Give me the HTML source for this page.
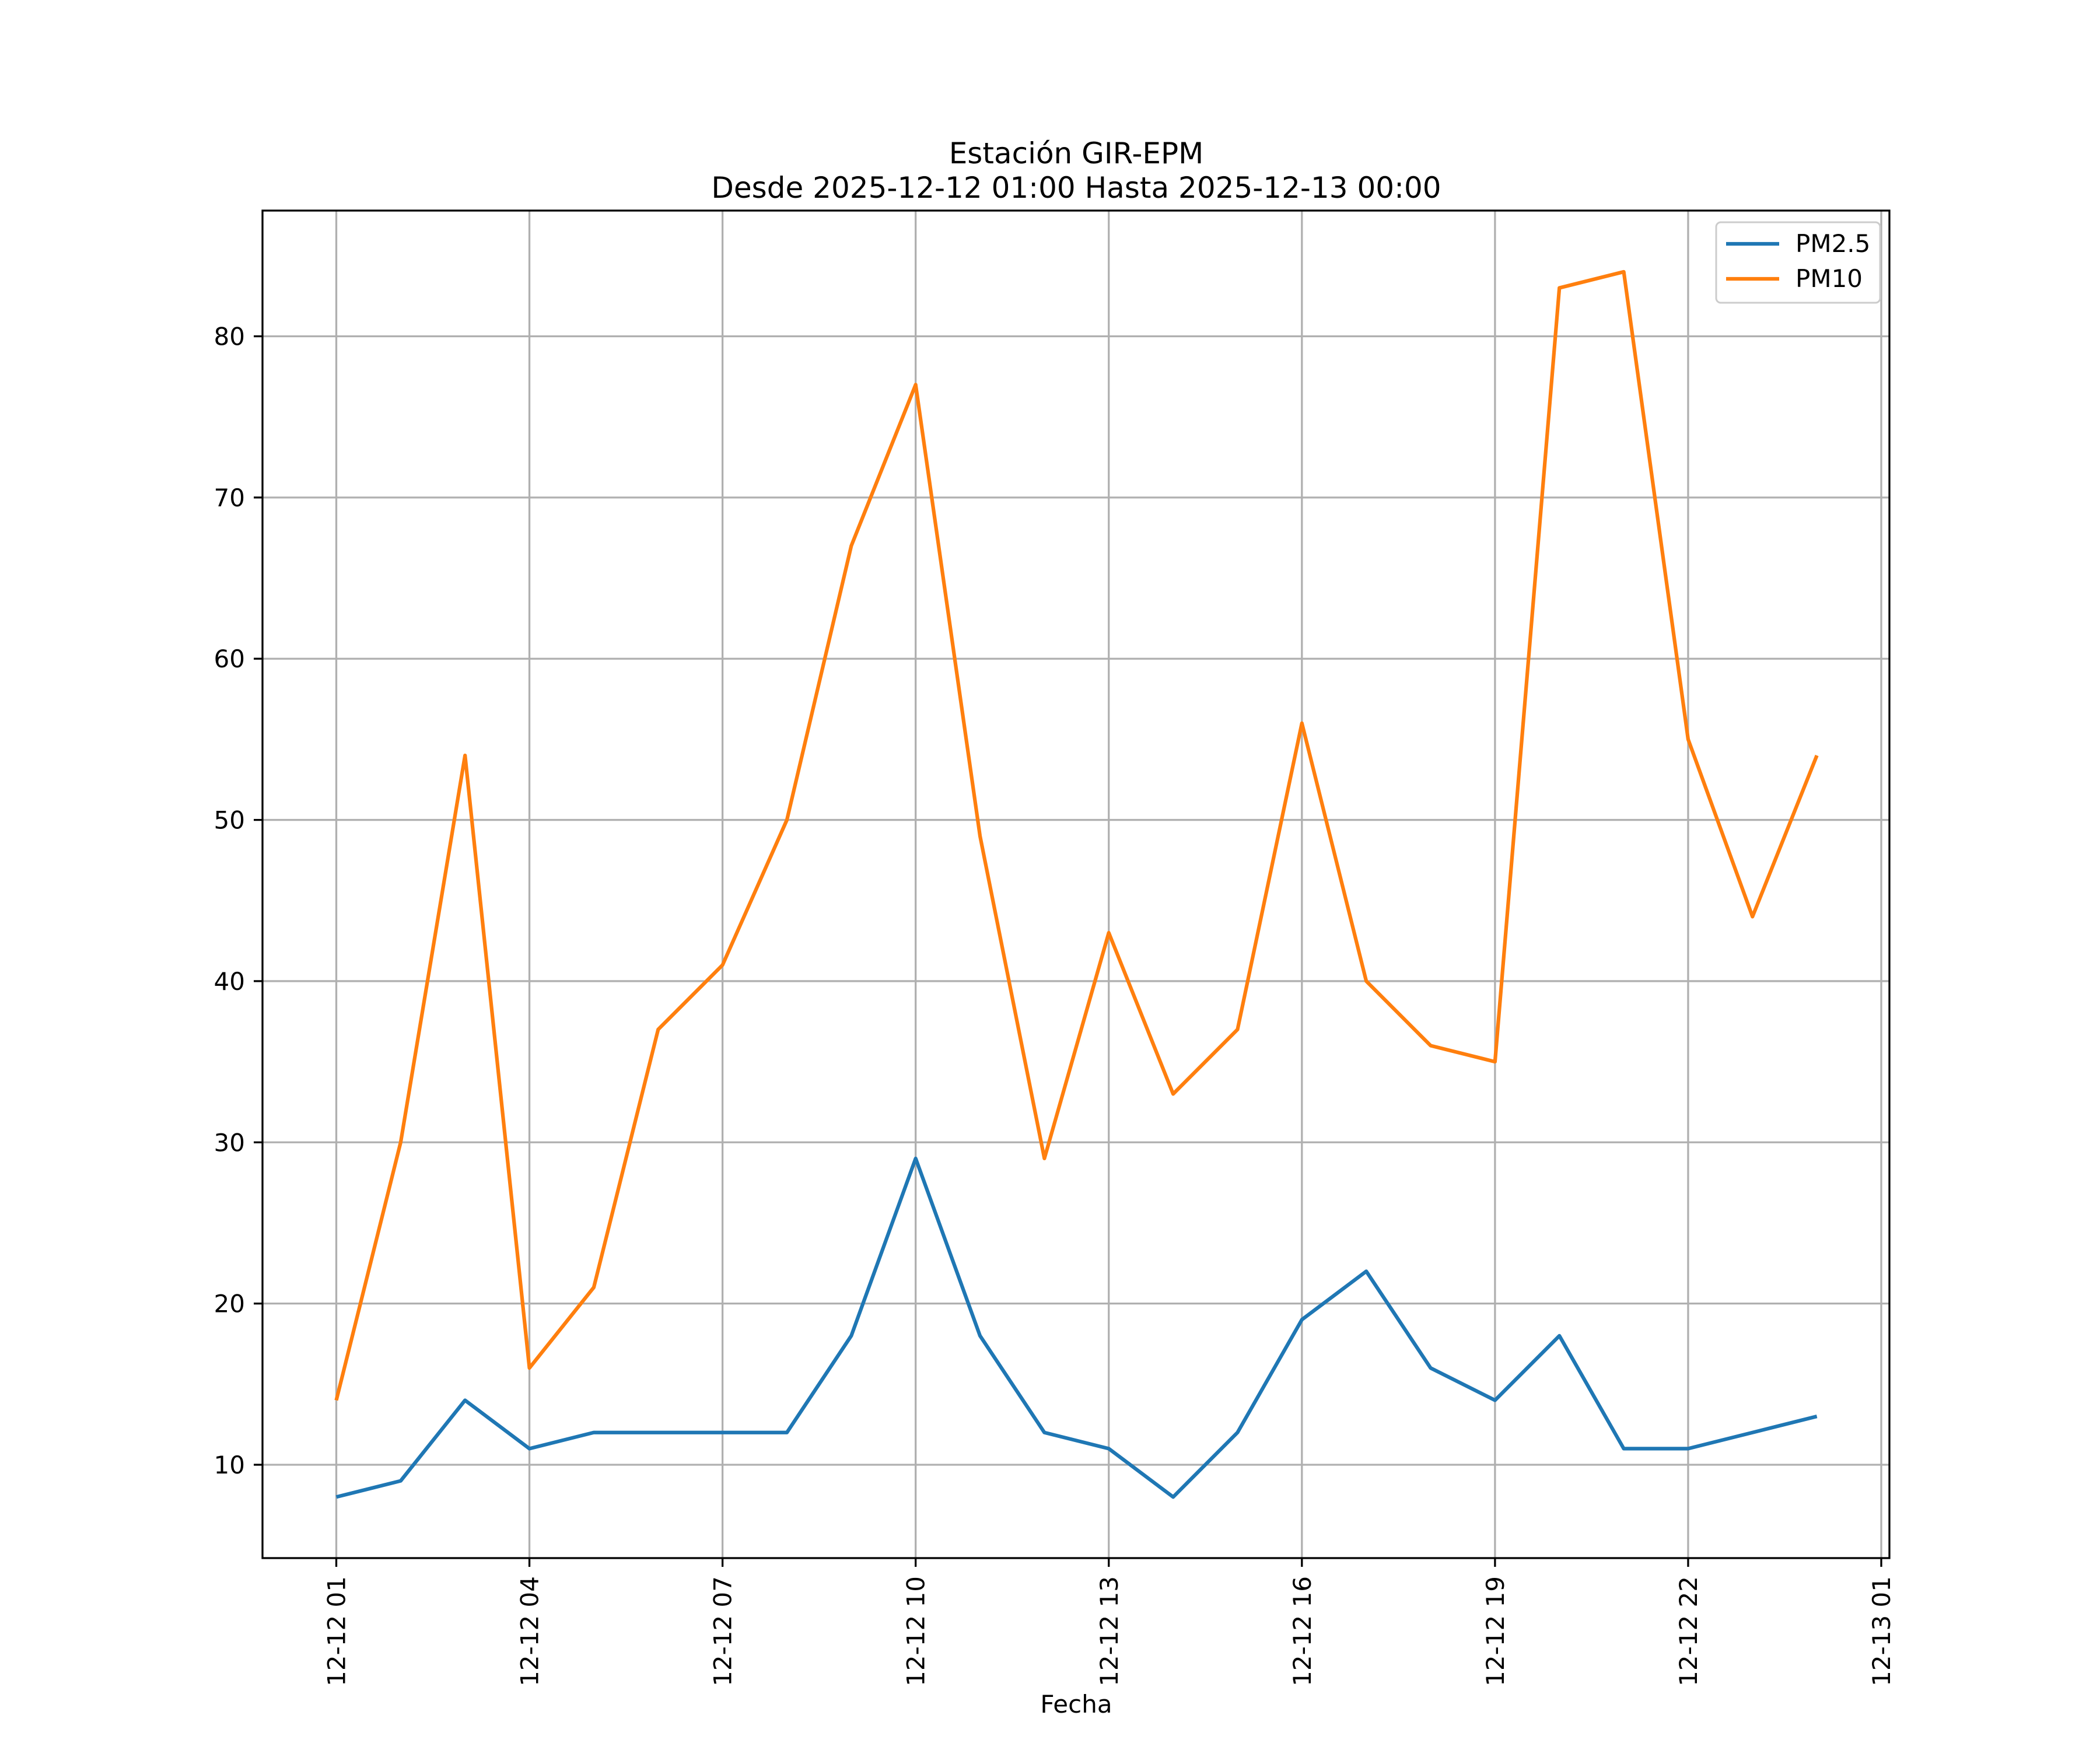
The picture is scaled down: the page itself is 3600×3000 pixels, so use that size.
<!DOCTYPE html>
<html><head><meta charset="utf-8"><style>
html,body{margin:0;padding:0;background:#fff}
svg{display:block;font-family:"DejaVu Sans","Liberation Sans",sans-serif}
</style></head><body>
<svg id="chart" width="3600" height="3000" viewBox="0 0 3600 3000">
<rect width="3600" height="3000" fill="#fff"/>
<g id="grid"></g>
<g id="series"></g>
<rect x="450" y="361" width="2789" height="2310" fill="none" stroke="#000" stroke-width="3.3"/>
<g id="axes"></g>
<text x="1845" y="280" font-size="50" text-anchor="middle">Estación GIR-EPM</text>
<text x="1845" y="339" font-size="50" text-anchor="middle">Desde 2025-12-12 01:00 Hasta 2025-12-13 00:00</text>
<text x="1845" y="2936" font-size="42" text-anchor="middle">Fecha</text>
<g>
<rect x="2942" y="381" width="281" height="138" rx="8" fill="#fff" fill-opacity="0.8" stroke="#ccc" stroke-width="3"/>
<line x1="2959" y1="418" x2="3050" y2="418" stroke="#1f77b4" stroke-width="6.25"/>
<text x="3078" y="432" font-size="42">PM2.5</text>
<line x1="2959" y1="478" x2="3050" y2="478" stroke="#ff7f0e" stroke-width="6.25"/>
<text x="3078" y="492" font-size="42">PM10</text>
</g>
</svg>
<script>
const hours=[1,2,3,4,5,6,7,8,9,10,11,12,13,14,15,16,17,18,19,20,21,22,23,24];
const pm25=[8,9,14,11,12,12,12,12,18,29,18,12,11,8,12,19,22,16,14,18,11,11,12,13];
const pm10=[14,30,54,16,21,37,41,50,67,77,49,29,43,33,37,56,40,36,35,83,84,55,44,54];
const yTicks=[10,20,30,40,50,60,70,80];
const xTickHours=[1,4,7,10,13,16,19,22,25];
const xTickLabels=["12-12 01","12-12 04","12-12 07","12-12 10","12-12 13","12-12 16","12-12 19","12-12 22","12-13 01"];
const NS="http://www.w3.org/2000/svg";
const L=450,R=3239,T=361,B=2671;
const X=h=>576.5+(h-1)*(3225-576.5)/24;
const Y=v=>2511-(v-10)*(2511-576.5)/70;
function mk(tag,attrs,parent){const e=document.createElementNS(NS,tag);for(const k in attrs)e.setAttribute(k,attrs[k]);parent.appendChild(e);return e;}
const grid=document.getElementById('grid'),axes=document.getElementById('axes'),series=document.getElementById('series');
yTicks.forEach(v=>{
 const g=mk('line',{x1:L,x2:R,y1:Y(v),y2:Y(v),stroke:'#b0b0b0','stroke-width':3.3},grid);
 
 
 const t=mk('line',{x1:L-15,x2:L,y1:Y(v),y2:Y(v),stroke:'#000','stroke-width':3.3},axes);
 
 
 const l=mk('text',{x:L-30,y:Y(v)+15,'font-size':42,'text-anchor':'end'},axes);
 l.textContent=v;
 
 
});
xTickHours.forEach((h,i)=>{
 const x=X(h);
 const g=mk('line',{x1:x,x2:x,y1:T,y2:B,stroke:'#b0b0b0','stroke-width':3.3},grid);
 
 
 const t=mk('line',{x1:x,x2:x,y1:B,y2:B+15,stroke:'#000','stroke-width':3.3},axes);
 
 
 const l=mk('text',{x:0,y:0,'font-size':42,'text-anchor':'end',transform:`translate(${x+15},${B+31}) rotate(-90)`},axes);
 l.textContent=xTickLabels[i];
 
 
});
[[pm25,'#1f77b4','pm25-line'],[pm10,'#ff7f0e','pm10-line']].forEach(([d,c,n])=>{
 const p=mk('polyline',{points:d.map((v,i)=>X(hours[i])+','+Y(v)).join(' '),fill:'none',stroke:c,'stroke-width':6.25,'stroke-linejoin':'round'},series);
 
 
});
</script>
</body></html>
